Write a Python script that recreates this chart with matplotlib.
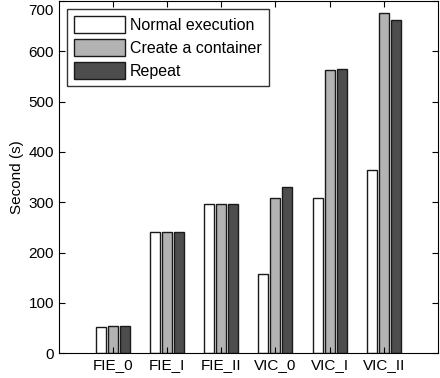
import matplotlib
matplotlib.use("Agg")
import matplotlib.pyplot as plt
import matplotlib.transforms as mtransforms
import numpy as np

plt.rcParams['font.family'] = ['Liberation Sans', 'DejaVu Sans']

groups = ['FIE_0', 'FIE_I', 'FIE_II', 'VIC_0', 'VIC_I', 'VIC_II']
normal = [51, 240, 297, 158, 308, 365]
container = [54, 240, 297, 308, 563, 676]
repeat = [54, 240, 297, 331, 565, 662]
series_names = ['Normal execution', 'Create a container', 'Repeat']
colors = ['#ffffff', '#b3b3b3', '#4d4d4d']

fig = plt.figure(figsize=(4.4, 3.78), dpi=100)
ax = fig.add_axes([0.134, 0.066, 0.861, 0.931])

x = np.arange(1, len(groups) + 1)
w = 0.185
off = 0.222
for i, (vals, name, c) in enumerate(zip([normal, container, repeat], series_names, colors)):
    ax.bar(x + (i - 1) * off, vals, width=w, color=c, edgecolor='#1a1a1a',
           linewidth=1.0, label=name)

ax.set_xlim(0, 7)
ax.set_ylim(0, 700)
ax.set_xticks(x)
ax.set_xticklabels(groups)
ax.set_yticks(range(0, 701, 100))
ax.tick_params(direction='in', top=True, right=True, labelsize=11, length=4, width=0.8)
ax.set_ylabel('Second (s)', fontsize=11, labelpad=3)
for s in ax.spines.values():
    s.set_linewidth(0.8)

# nudge the top tick label down so it stays inside the figure
top_lbl = ax.get_yticklabels()[-1]
top_lbl.set_transform(top_lbl.get_transform() +
                      mtransforms.ScaledTranslation(0, -6 / 72, fig.dpi_scale_trans))

leg = ax.legend(loc='upper left', fontsize=11.5, handlelength=3.2, handleheight=1.2,
                fancybox=False, framealpha=1, edgecolor='#333333',
                borderaxespad=0.5, labelspacing=0.4, handletextpad=0.3, borderpad=0.45)
leg.get_frame().set_linewidth(1.0)

fig.savefig('out.png', dpi=100)
